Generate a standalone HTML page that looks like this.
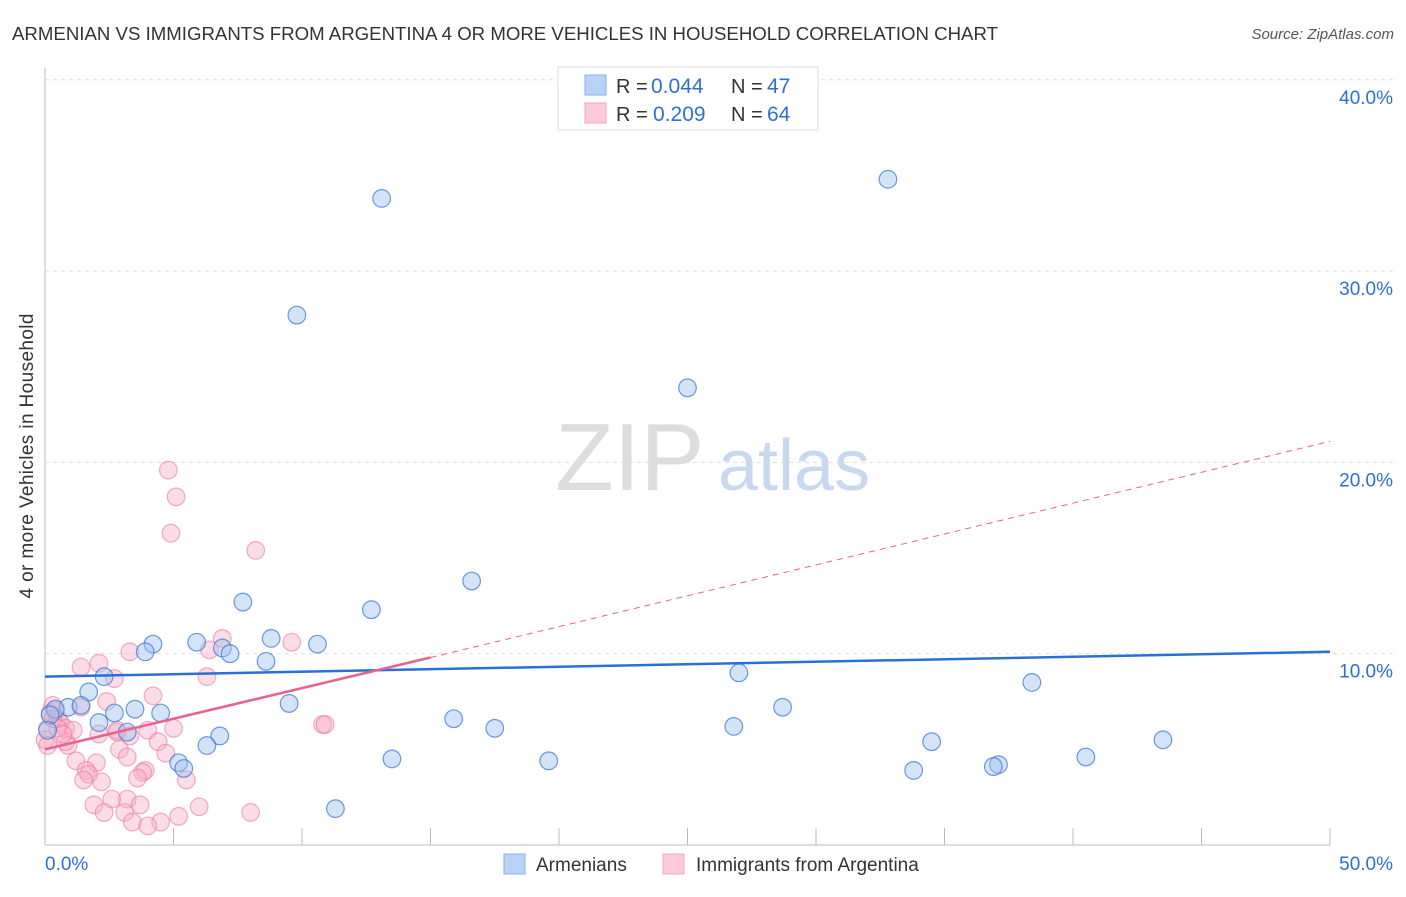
<!DOCTYPE html>
<html><head><meta charset="utf-8"><style>
body{margin:0;background:#fff;font-family:"Liberation Sans",sans-serif;}
svg text{font-family:"Liberation Sans",sans-serif;}
</style></head><body>
<svg id="c" width="1406" height="892" xmlns="http://www.w3.org/2000/svg">
<text x="12" y="40" font-size="18" fill="#333" textLength="986" lengthAdjust="spacingAndGlyphs">ARMENIAN VS IMMIGRANTS FROM ARGENTINA 4 OR MORE VEHICLES IN HOUSEHOLD CORRELATION CHART</text>
<text x="1394" y="39" font-size="15" fill="#555" font-style="italic" text-anchor="end">Source: ZipAtlas.com</text>
<text x="33" y="456" font-size="19" fill="#333" text-anchor="middle" textLength="285" transform="rotate(-90 33 456)">4 or more Vehicles in Household</text>
<g><text x="555" y="490" font-size="96" font-family="Liberation Serif" fill="#ddd">ZIP</text><text x="718" y="490" font-size="72" fill="#c8d8ee">atlas</text></g>
<g id="grid"></g><g id="marks"></g>
<g>
<rect x="558" y="67" width="260" height="63" fill="#fff" stroke="#ddd"/>
<rect x="585" y="75" width="21" height="20" fill="#b8d3f5" stroke="#8ab2e8"/>
<rect x="585" y="103" width="21" height="20" fill="#fccadb" stroke="#f2a6c0"/>
<text x="616" y="93" font-size="20" fill="#333">R =</text><text x="651" y="93" font-size="21" fill="#2f6fd3">0.044</text>
<text x="731" y="93" font-size="20" fill="#333">N =</text><text x="767" y="93" font-size="21" fill="#2f6fd3">47</text>
<text x="616" y="121" font-size="20" fill="#333">R =</text><text x="653" y="121" font-size="21" fill="#2f6fd3">0.209</text>
<text x="731" y="121" font-size="20" fill="#333">N =</text><text x="767" y="121" font-size="21" fill="#2f6fd3">64</text>
</g>
<g>
<rect x="504" y="854" width="21" height="20" fill="#b8d3f5" stroke="#8ab2e8"/>
<text x="536" y="871" font-size="19" fill="#333">Armenians</text>
<rect x="663" y="854" width="21" height="20" fill="#fccadb" stroke="#f2a6c0"/>
<text x="696" y="871" font-size="19" fill="#333">Immigrants from Argentina</text>
</g>
</svg>
<script>
const xTicks=[0,5,10,15,20,25,30,35,40,45,50];
const yTicks=[10,20,30,40];
const blueX=[13.1,32.8,9.8,25.0,16.6,7.7,12.7,4.2,5.9,8.8,10.6,3.9,6.9,7.2,8.6,27.0,38.4,2.3,1.7,9.5,28.7,0.9,1.4,0.4,3.5,4.5,2.7,15.9,26.8,17.5,2.1,3.2,6.8,6.3,34.5,43.5,13.5,19.6,40.5,5.2,5.4,37.1,36.9,33.8,11.3,0.2,0.1];
const blueY=[33.8,34.8,27.7,23.9,13.8,12.7,12.3,10.5,10.6,10.8,10.5,10.1,10.3,10.0,9.6,9.0,8.5,8.8,8.0,7.4,7.2,7.2,7.3,7.1,7.1,6.9,6.9,6.6,6.2,6.1,6.4,5.9,5.7,5.2,5.4,5.5,4.5,4.4,4.6,4.3,4.0,4.2,4.1,3.9,1.9,6.8,6.0];
const pinkX=[4.8,5.1,4.9,8.2,6.9,9.6,3.3,6.4,2.1,1.4,2.7,6.3,4.2,2.4,1.4,0.2,0.5,0.1,0.6,0.8,1.1,2.1,2.8,4.0,5.0,10.8,10.9,2.8,3.3,0.9,0.8,4.4,2.9,3.2,4.7,1.2,2.0,1.6,3.9,3.8,1.7,1.5,3.6,5.5,2.2,1.9,2.6,3.2,3.7,6.0,2.3,3.1,3.4,4.5,4.0,5.2,8.0,0.3,0.4,0.3,0.5,0.7,0.0,0.1];
const pinkY=[19.6,18.2,16.3,15.4,10.8,10.6,10.1,10.2,9.5,9.3,8.7,8.8,7.8,7.5,7.2,6.9,6.6,6.1,6.4,6.1,6.0,5.8,5.9,6.0,6.1,6.3,6.3,6.0,5.7,5.2,5.4,5.4,5.0,4.6,4.8,4.4,4.3,3.9,3.9,3.8,3.7,3.4,3.5,3.4,3.3,2.1,2.4,2.4,2.1,2.0,1.7,1.7,1.2,1.2,1.0,1.5,1.7,7.3,7.0,6.6,6.1,5.8,5.5,5.2];
const blueTrend=[0,8.8,50,10.1];
const pinkTrend=[0,5.0,15,9.8,50,21.1];
const X=v=>45+v/50*1285, Y=v=>845-v/10*191.3;
const NS='http://www.w3.org/2000/svg';
function mk(p,t,a){const e=document.createElementNS(NS,t);for(const k in a)e.setAttribute(k,a[k]);p.appendChild(e);return e;}
const g=document.getElementById('grid'),m=document.getElementById('marks');
const ax=mk(g,'line',{x1:45,y1:68,x2:45,y2:845,stroke:'#bbb'});


const bx=mk(g,'line',{x1:45,y1:845,x2:1330,y2:845,stroke:'#bbb'});


yTicks.forEach(t=>{
 const l=mk(g,'line',{x1:45,x2:1393,y1:Y(t),y2:Y(t),stroke:'#ddd','stroke-dasharray':'4,4'});
 
 
 const tx=mk(g,'text',{x:1393,y:Y(t)+24,'font-size':19,fill:'#2f6fd3','text-anchor':'end'});tx.textContent=t.toFixed(1)+'%';
 
 
});
xTicks.forEach(t=>{
 if(t>0){const l=mk(g,'line',{x1:X(t),x2:X(t),y1:828,y2:845,stroke:'#bbb'});
 
 }
 if(t===0||t===50){const tx=mk(g,'text',{x:t===0?45:1393,y:870,'font-size':19,fill:'#2f6fd3','text-anchor':t===0?'start':'end'});tx.textContent=t.toFixed(1)+'%';
 
 }
});
pinkX.forEach((v,i)=>{const c=mk(m,'circle',{cx:X(v),cy:Y(pinkY[i]),r:8.8,fill:'rgba(248,170,195,0.4)',stroke:'rgba(232,120,160,0.6)','stroke-width':1.2});
 
 });
blueX.forEach((v,i)=>{const c=mk(m,'circle',{cx:X(v),cy:Y(blueY[i]),r:8.8,fill:'rgba(160,195,240,0.45)',stroke:'rgba(60,120,210,0.75)','stroke-width':1.2});
 
 });
const bt=mk(m,'line',{x1:X(blueTrend[0]),y1:Y(blueTrend[1]),x2:X(blueTrend[2]),y2:Y(blueTrend[3]),stroke:'#2a6fd6','stroke-width':2.5});


const pt=mk(m,'line',{x1:X(pinkTrend[0]),y1:Y(pinkTrend[1]),x2:X(pinkTrend[2]),y2:Y(pinkTrend[3]),stroke:'#e8628f','stroke-width':2.5});


const pd=mk(m,'line',{x1:X(pinkTrend[2]),y1:Y(pinkTrend[3]),x2:X(pinkTrend[4]),y2:Y(pinkTrend[5]),stroke:'#e8628f','stroke-width':1,'stroke-dasharray':'6,5'});


</script>
</body></html>
